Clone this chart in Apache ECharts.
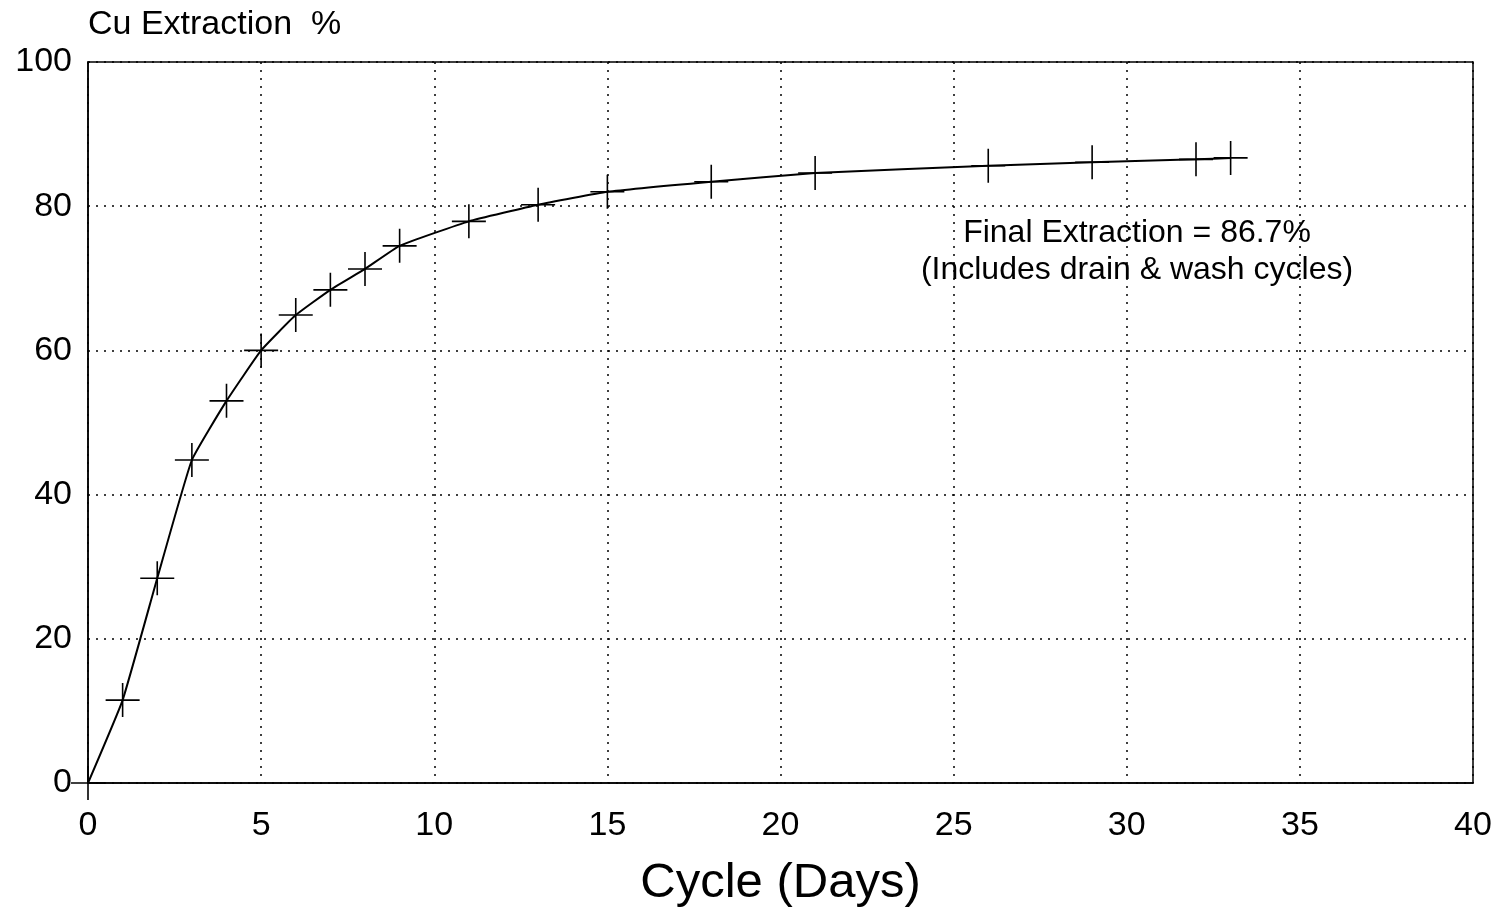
<!DOCTYPE html>
<html>
<head>
<meta charset="utf-8">
<script src="https://cdn.jsdelivr.net/npm/echarts@6/dist/echarts.min.js"></script>
<style>
html,body{margin:0;padding:0;background:#fff;}
#chart{width:1503px;height:910px;}
</style>
</head>
<body>
<div id="chart"></div>
<script>
var cycleDays = [0, 1, 2, 3, 4, 5, 6, 7, 8, 9, 11, 13, 15, 18, 21, 26, 29, 32, 33];
var cuExtraction = [0, 11.5, 28.4, 44.8, 53.0, 60.0, 64.9, 68.4, 71.3, 74.5, 77.9, 80.2, 82.0, 83.4, 84.6, 85.6, 86.1, 86.5, 86.7];
var xTicks = [0, 5, 10, 15, 20, 25, 30, 35, 40];
var yTicks = [0, 20, 40, 60, 80, 100];
var annotationLines = ['Final Extraction = 86.7%', '(Includes drain & wash cycles)'];

var FONT = '"Liberation Sans", Arial, Helvetica, sans-serif';
var chart = echarts.init(document.getElementById('chart'));
var pts = cycleDays.map(function (d, i) { return [d, cuExtraction[i]]; });

chart.setOption({
  backgroundColor: '#fff',
  animation: false,
  grid: {
    left: 88, right: 30, top: 62, bottom: 127,
    containLabel: false,
    outerBoundsMode: 'none',
    show: true, borderColor: '#000', borderWidth: 1.5, backgroundColor: 'transparent'
  },
  xAxis: {
    type: 'value', min: 0, max: 40, interval: 5,
    name: 'Cycle (Days)', nameLocation: 'middle', nameGap: 76,
    nameTextStyle: { fontFamily: FONT, fontSize: 49, color: '#000' },
    axisLine: { show: true, lineStyle: { color: '#000', width: 1.5 } },
    axisTick: { show: false },
    axisLabel: { fontFamily: FONT, fontSize: 34, color: '#000', margin: 26,
      formatter: function (v) { return xTicks.indexOf(v) >= 0 ? String(v) : ''; } },
    splitLine: { show: true, lineStyle: { color: '#000', type: [2, 6], width: 1.5 } }
  },
  yAxis: {
    type: 'value', min: 0, max: 100, interval: 20,
    name: 'Cu Extraction  %', nameLocation: 'end', nameGap: 20,
    nameTextStyle: { fontFamily: FONT, fontSize: 34, color: '#000', align: 'left' },
    axisLine: { show: true, lineStyle: { color: '#000', width: 1.5 } },
    axisTick: { show: false },
    axisLabel: { fontFamily: FONT, fontSize: 34, color: '#000', margin: 16,
      formatter: function (v) { return yTicks.indexOf(v) >= 0 ? String(v) : ''; } },
    splitLine: { show: true, lineStyle: { color: '#000', type: [2, 6], width: 1.5 } }
  },
  series: [{
    type: 'line',
    data: pts,
    smooth: 0.12,
    lineStyle: { color: '#000', width: 2 },
    symbol: 'path://M0,-10L0,10M-10,0L10,0',
    symbolSize: 34,
    showAllSymbol: true,
    itemStyle: { color: 'transparent', borderColor: '#000', borderWidth: 1.6 },
    emphasis: { disabled: true },
    z: 5
  }],
  graphic: [{
    type: 'text',
    x: 1137, y: 233,
    z: 10,
    style: {
      text: annotationLines[0],
      font: '32px ' + FONT,
      fill: '#000',
      align: 'center',
      verticalAlign: 'middle'
    }
  }, {
    type: 'text',
    x: 1137, y: 270,
    z: 10,
    style: {
      text: annotationLines[1],
      font: '32px ' + FONT,
      fill: '#000',
      align: 'center',
      verticalAlign: 'middle'
    }
  }]
});
</script>
</body>
</html>
